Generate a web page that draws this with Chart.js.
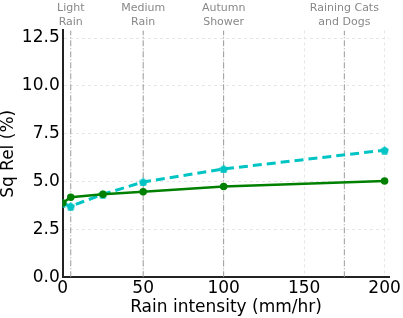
<!DOCTYPE html>
<html>
<head>
<meta charset="utf-8">
<script src="https://cdn.jsdelivr.net/npm/chart.js@4/dist/chart.umd.min.js"></script>
<style>
  body { margin: 0; background: #fff; }
  #wrap { width: 403px; height: 318px; }
</style>
</head>
<body>
<div id="wrap"><canvas id="myChart" width="403" height="318"></canvas></div>
<script>
const rainRates = [0, 5, 25, 50, 100, 200];
const greenValues = [3.88, 4.18, 4.34, 4.47, 4.74, 5.03];
const cyanValues = [3.88, 3.71, 4.34, 4.98, 5.66, 6.64];
const xTicks = [0, 50, 100, 150, 200];
const yTicks = [0, 2.5, 5, 7.5, 10, 12.5];
const markerRates = [5, 50, 100, 175];
const markerNames = [['Light', 'Rain'], ['Medium', 'Rain'], ['Autumn', 'Shower'], ['Raining Cats', 'and Dogs']];

const FONT = 'DejaVu Sans';

function pentagon(size, color) {
  const c = document.createElement('canvas');
  c.width = size;
  c.height = size;
  const g = c.getContext('2d');
  const r = size / 2;
  g.beginPath();
  for (let i = 0; i < 5; i++) {
    const a = -Math.PI / 2 + i * 2 * Math.PI / 5;
    const px = r + r * Math.cos(a);
    const py = r + r * Math.sin(a) + 0.5;
    if (i === 0) g.moveTo(px, py); else g.lineTo(px, py);
  }
  g.closePath();
  g.fillStyle = color;
  g.fill();
  return c;
}

const toPoints = (xs, ys) => xs.map((x, i) => ({ x: x, y: ys[i] }));

const markerSets = markerRates.map(r => ({
  data: [{ x: r, y: 0 }, { x: r, y: 12.9 }],
  borderColor: '#9a9a9a',
  borderWidth: 1,
  borderDash: [6, 2, 1, 2],
  pointRadius: 0,
  fill: false,
  order: 5
}));

const ctx = document.getElementById('myChart').getContext('2d');
const myChart = new Chart(ctx, {
  type: 'line',
  data: {
    datasets: [
      {
        data: toPoints(rainRates, greenValues),
        borderColor: '#008000',
        backgroundColor: '#008000',
        borderWidth: 2.5,
        pointRadius: 2.5,
        pointHoverRadius: 2.5,
        fill: false,
        order: 1
      },
      {
        data: toPoints(rainRates, cyanValues),
        borderColor: '#00c4c4',
        backgroundColor: '#00c4c4',
        borderWidth: 3,
        borderDash: [9, 5],
        pointStyle: pentagon(9, '#00c4c4'),
        pointRadius: 4,
        fill: false,
        order: 2
      },
      ...markerSets
    ]
  },
  options: {
    responsive: false,
    animation: false,
    layout: { padding: { left: 0, right: 4, top: 0, bottom: 0 } },
    plugins: { legend: { display: false }, tooltip: { enabled: false } },
    scales: {
      x: {
        type: 'linear',
        min: 0,
        max: 203,
        afterBuildTicks: axis => { axis.ticks = xTicks.map(v => ({ value: v })); },
        ticks: { color: '#000', font: { family: FONT, size: 17, lineHeight: 1.05 }, padding: 2, maxRotation: 0 },
        grid: { color: '#e6e6e6', drawTicks: false },
        border: { display: true, color: '#222', width: 2, dash: [3, 3] },
        title: { display: true, text: 'Rain intensity (mm/hr)', color: '#000', font: { family: FONT, size: 17, lineHeight: 1.05 }, padding: { top: 0, bottom: 1 } }
      },
      x2: {
        type: 'linear',
        position: 'top',
        min: 0,
        max: 203,
        afterBuildTicks: axis => { axis.ticks = markerRates.map(v => ({ value: v })); },
        ticks: {
          color: '#888',
          font: { family: FONT, size: 11 },
          padding: 2,
          maxRotation: 0,
          autoSkip: false,
          callback: (v) => markerNames[markerRates.indexOf(v)]
        },
        grid: { display: false, drawTicks: false },
        border: { display: false }
      },
      y: {
        min: 0,
        max: 12.9,
        afterBuildTicks: axis => { axis.ticks = yTicks.map(v => ({ value: v })); },
        ticks: { color: '#000', font: { family: FONT, size: 17 }, padding: 3, callback: v => v.toFixed(1) },
        grid: { color: '#e6e6e6', drawTicks: false },
        border: { display: true, color: '#222', width: 2, dash: [3, 3] },
        title: { display: true, text: 'Sq Rel (%)', color: '#000', font: { family: FONT, size: 17, lineHeight: 1.05 }, padding: { top: 0, bottom: 1 } }
      }
    }
  }
});
</script>
</body>
</html>
